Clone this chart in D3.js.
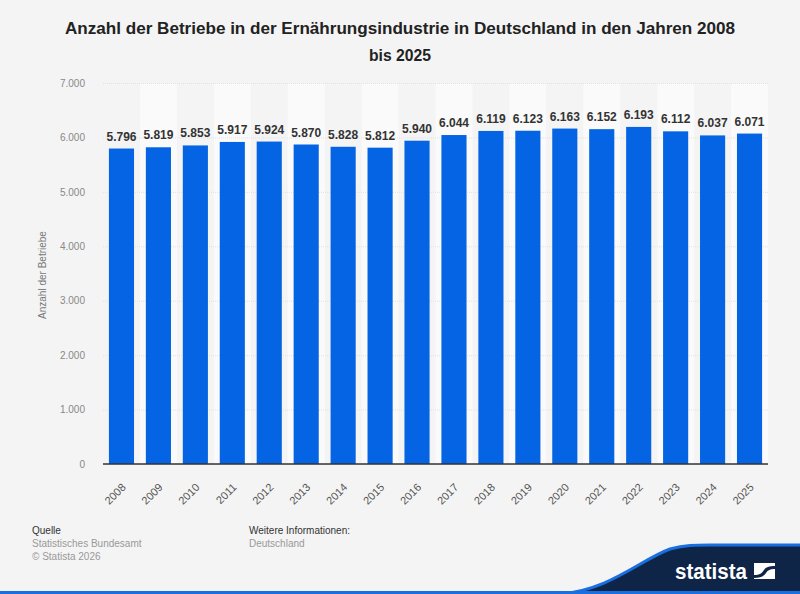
<!DOCTYPE html>
<html lang="de">
<head>
<meta charset="UTF-8">
<title>Betriebe Ernährungsindustrie</title>
<script src="https://cdn.jsdelivr.net/npm/d3@7"></script>
<style>
  body { margin: 0; background: #f4f4f4; font-family: "Liberation Sans", Arial, sans-serif; }
  svg { display: block; }
  .title { font-size: 17px; font-weight: bold; fill: #222; }
  .y-axis text { font-size: 10px; fill: #888; }
  .x-axis text { font-size: 11px; fill: #555; }
  .value { font-size: 12px; font-weight: bold; fill: #333; }
  .foot { font-size: 10px; }
</style>
</head>
<body>
<svg id="chart" width="800" height="594"></svg>
<script>
const years = ["2008","2009","2010","2011","2012","2013","2014","2015","2016",
               "2017","2018","2019","2020","2021","2022","2023","2024","2025"];
const betriebe = [5796, 5819, 5853, 5917, 5924, 5870, 5828, 5812, 5940,
                  6044, 6119, 6123, 6163, 6152, 6193, 6112, 6037, 6071];
const yTicks = [0, 1000, 2000, 3000, 4000, 5000, 6000, 7000];

const data = years.map((y, i) => ({year: y, value: betriebe[i]}));
const fmt = d3.formatLocale({decimal: ",", thousands: ".", grouping: [3], currency: ["", "€"]}).format(",d");

const svg = d3.select("#chart");
const plotL = 103, plotR = 768, plotT = 83, plotB = 464;

const x = d3.scaleBand().domain(years).range([plotL, plotR]).paddingInner(0.32).paddingOuter(0.16);
const y = d3.scaleLinear().domain([0, 7000]).range([plotB, plotT]);

// title
svg.append("text").attr("class", "title").attr("x", 400).attr("y", 34)
   .attr("text-anchor", "middle").attr("textLength", 670).attr("lengthAdjust", "spacingAndGlyphs")
   .text("Anzahl der Betriebe in der Ernährungsindustrie in Deutschland in den Jahren 2008");
svg.append("text").attr("class", "title").attr("x", 400).attr("y", 61)
   .attr("text-anchor", "middle").attr("textLength", 62).attr("lengthAdjust", "spacingAndGlyphs")
   .text("bis 2025");

// alternating column bands
const step = x.step();
svg.append("g").selectAll("rect")
   .data(years.filter((d, i) => i % 2 === 1))
   .join("rect")
   .attr("x", d => x(d) + x.bandwidth() / 2 - step / 2)
   .attr("y", plotT)
   .attr("width", step)
   .attr("height", plotB - plotT)
   .attr("fill", "#fafafa");

// grid + y axis
const yAxis = svg.append("g").attr("class", "y-axis")
   .attr("transform", `translate(${plotL},0)`)
   .call(d3.axisLeft(y).tickValues(yTicks).tickFormat(fmt).tickSize(-(plotR - plotL)).tickPadding(18));
yAxis.select(".domain").remove();
yAxis.selectAll("line").attr("stroke", "#e2e2e2").attr("stroke-dasharray", "1,1");

svg.append("text").attr("transform", "rotate(-90)")
   .attr("x", -275).attr("y", 46).attr("text-anchor", "middle")
   .attr("font-size", 10).attr("fill", "#777")
   .text("Anzahl der Betriebe");

// bars
svg.append("g").selectAll("rect")
   .data(data)
   .join("rect")
   .attr("x", d => x(d.year))
   .attr("y", d => y(d.value))
   .attr("width", x.bandwidth())
   .attr("height", d => plotB - y(d.value))
   .attr("fill", "#0564e3");

svg.append("g").selectAll("text")
   .data(data)
   .join("text")
   .attr("class", "value")
   .attr("x", d => x(d.year) + x.bandwidth() / 2)
   .attr("y", d => y(d.value) - 8)
   .attr("text-anchor", "middle")
   .text(d => fmt(d.value));

// x axis
const xAxis = svg.append("g").attr("class", "x-axis")
   .attr("transform", `translate(0,${plotB})`)
   .call(d3.axisBottom(x).tickSize(0));
xAxis.select(".domain").attr("stroke", "#333").attr("stroke-width", 1.5)
   .attr("d", `M${plotL},0H${plotR}`);
xAxis.selectAll("text")
   .attr("text-anchor", "end")
   .attr("x", 0).attr("y", 0).attr("dx", 0).attr("dy", 0)
   .attr("transform", "translate(5,24) rotate(-45)");

// footer
const foot = svg.append("g").attr("class", "foot");
foot.append("text").attr("x", 32).attr("y", 534).attr("fill", "#333").text("Quelle");
foot.append("text").attr("x", 32).attr("y", 547).attr("fill", "#999").text("Statistisches Bundesamt");
foot.append("text").attr("x", 32).attr("y", 560).attr("fill", "#999").text("© Statista 2026");
foot.append("text").attr("x", 249).attr("y", 534).attr("fill", "#333").text("Weitere Informationen:");
foot.append("text").attr("x", 249).attr("y", 547).attr("fill", "#999").text("Deutschland");

// statista logo band
svg.append("path")
   .attr("d", "M560,594 C610,590 640,560 670,549 C685,545 695,545 710,545 L800,545 L800,594 Z")
   .attr("fill", "#0f2547");
svg.append("path")
   .attr("d", "M560,594 C610,590 640,560 670,549 C685,545 695,545 710,545 L800,545")
   .attr("fill", "none").attr("stroke", "#1a6fe0").attr("stroke-width", 3);
svg.append("rect").attr("x", 0).attr("y", 591).attr("width", 800).attr("height", 3).attr("fill", "#1a6fe0");
svg.append("text").attr("x", 675).attr("y", 579)
   .attr("font-size", 22).attr("font-weight", "bold").attr("fill", "#fff")
   .attr("textLength", 72).attr("lengthAdjust", "spacingAndGlyphs")
   .text("statista");
const logo = svg.append("g").attr("transform", "translate(754,563)");
logo.append("rect").attr("width", 21).attr("height", 16).attr("fill", "#fff");
logo.append("path").attr("d", "M0,12 C6,12 8,10 10,7 C12,4 15,3 21,3 L21,6 C16,6 14,7 12,10 C10,13 7,15 0,15 Z")
   .attr("fill", "#0f2547");
</script>
</body>
</html>
